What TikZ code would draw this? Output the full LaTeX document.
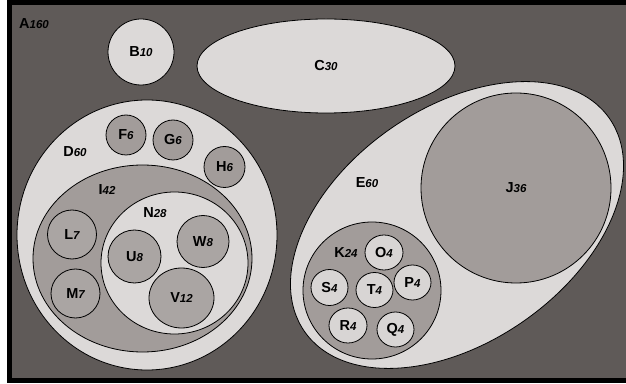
\documentclass[tikz,border=0pt]{standalone}
\usepackage{fontspec}
\setmainfont{Liberation Sans}
\usetikzlibrary{shapes.geometric}

\definecolor{bgdark}{RGB}{95,90,88}
\definecolor{setlight}{RGB}{220,217,216}
\definecolor{setmid}{RGB}{162,156,154}
\definecolor{setmidl}{RGB}{170,165,163}
\definecolor{setpale}{RGB}{216,213,212}

% set name in bold, its size in smaller bold italic
\newcommand\vlab[2]{{\fontsize{14.5}{15}\selectfont\bfseries #1}{\fontsize{11.5}{13}\selectfont\bfseries\itshape #2}}

\tikzset{
  setshape/.style={ellipse, draw=black, line width=0.8pt, inner sep=0pt, outer sep=0pt},
  lightset/.style={setshape, fill=setlight},
  midset/.style={setshape, fill=setmid},
  midlset/.style={setshape, fill=setmidl},
  paleset/.style={setshape, fill=setpale},
  dia/.style={minimum width=#1pt, minimum height=#1pt},
  wh/.style 2 args={minimum width=#1pt, minimum height=#2pt},
  setlabel/.style={inner sep=0pt}
}

\begin{document}
\begin{tikzpicture}[x=1pt,y=1pt]
\useasboundingbox (0,0) rectangle (626,383);
\clip (0,0) rectangle (626,383);

% universe A
\draw[line width=4.5pt, fill=bgdark] (9.5,2.5) rectangle (640,380.5);
\node[setlabel, anchor=west] (lA) at (19,359) {\vlab{A}{160}};

% B and C
\node[lightset, dia=66] (B) at (141,331) {\vlab{B}{10}};
\node[lightset, wh={258}{94}] (C) at (326,317) {\vlab{C}{30}};

% D and its contents
\node[lightset, wh={260}{270}] (D) at (147,148) {};
\node[setlabel] (lD) at (75,231) {\vlab{D}{60}};
\node[midset, dia=40] (F) at (126,248) {\vlab{F}{6}};
\node[midset, dia=40] (G) at (173,243) {\vlab{G}{6}};
\node[midset, dia=41] (H) at (224.5,216) {\vlab{H}{6}};

\node[midset, wh={219}{187}] (I) at (142.5,124.5) {};
\node[setlabel] (lI) at (107,193) {\vlab{I}{42}};
\node[midlset, dia=49] (L) at (72,148.5) {\vlab{L}{7}};
\node[midlset, dia=49] (M) at (75.5,89.5) {\vlab{M}{7}};

\node[lightset, wh={147}{142}] (N) at (174.5,120) {};
\node[setlabel] (lN) at (155,170) {\vlab{N}{28}};
\node[midlset, dia=53] (U) at (134.5,126.5) {\vlab{U}{8}};
\node[midlset, dia=52] (W) at (203,141.5) {\vlab{W}{8}};
\node[midlset, wh={65}{60}] (V) at (181.5,85) {\vlab{V}{12}};

% E and its contents
\node[lightset, wh={372}{234}, rotate=35] (E) at (457,158) {};
\node[setlabel] (lE) at (367,200) {\vlab{E}{60}};
\node[midset, dia=190] (J) at (516,195) {\vlab{J}{36}};

\node[midset, wh={138}{137}] (K) at (372,92.5) {};
\node[setlabel] (lK) at (346,130) {\vlab{K}{24}};
\node[paleset, wh={38}{35}] (O) at (384,130.5) {\vlab{O}{4}};
\node[paleset, wh={37}{36}] (S) at (329.5,95.5) {\vlab{S}{4}};
\node[paleset, wh={37}{35}] (T) at (374.5,93) {\vlab{T}{4}};
\node[paleset, wh={37}{35}] (P) at (412.5,100.5) {\vlab{P}{4}};
\node[paleset, wh={38}{35}] (R) at (348,57.5) {\vlab{R}{4}};
\node[paleset, wh={37}{35}] (Q) at (395.5,53.5) {\vlab{Q}{4}};
\end{tikzpicture}
\end{document}
